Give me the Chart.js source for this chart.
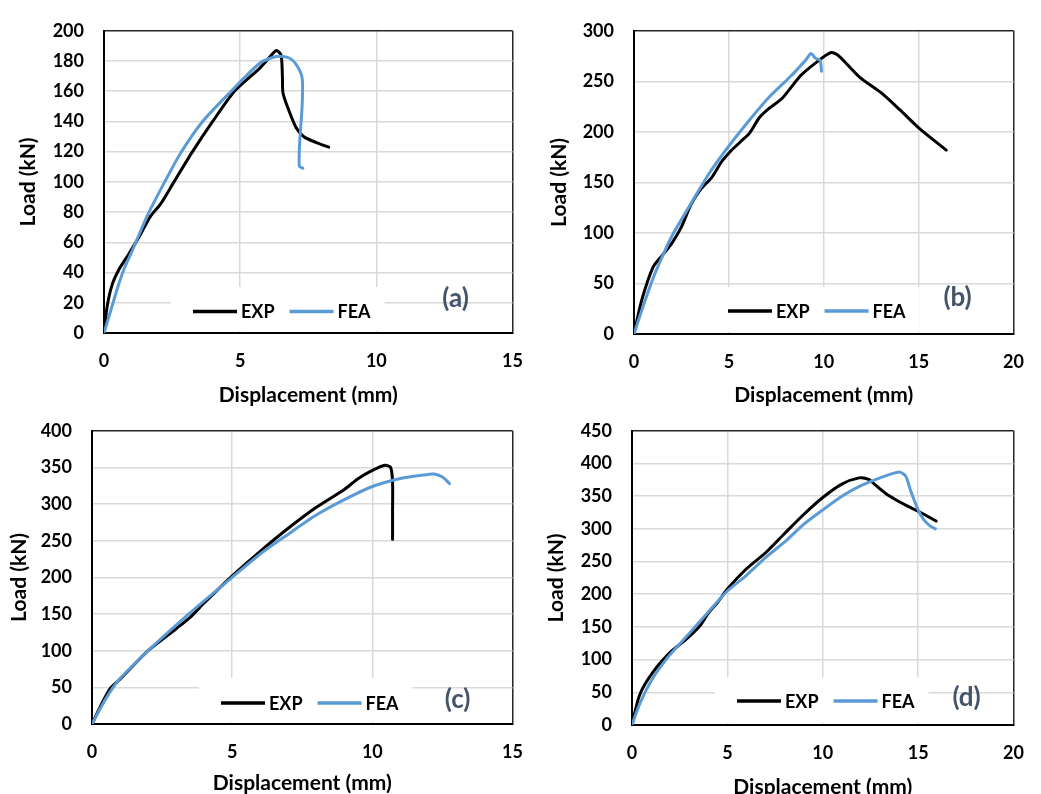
<!DOCTYPE html>
<html>
<head>
<meta charset="utf-8">
<script src="https://cdn.jsdelivr.net/npm/chart.js@4/dist/chart.umd.min.js"></script>
<style>
  html, body { margin: 0; padding: 0; background: #fff; }
  body { width: 1041px; height: 794px; overflow: hidden; position: relative; }
  canvas { position: absolute; }
</style>
</head>
<body>
<canvas id="chartA"></canvas>
<canvas id="chartB"></canvas>
<canvas id="chartC"></canvas>
<canvas id="chartD"></canvas>
<script>
// Load-displacement curves, each point is [displacement (mm), load (kN)]
const expA = [[0,0],[0.12,18],[0.3,32],[0.55,42],[0.9,52],[1.3,64],[1.7,77],[2.1,86],[2.57,100],[3.25,120],[3.99,140],[4.79,160],
  [5.73,175.5],[6.15,184],[6.33,187],[6.5,184],[6.55,170],[6.57,159],[6.75,149],[7.05,136],[7.35,129.7],[7.8,126],[8.25,123]];
const feaA = [[0,0],[0.25,15],[0.5,30],[0.75,43],[1.05,55],[1.6,78],[2.2,99],[2.81,119],[3.62,140],[4.67,160],
  [5.73,178.7],[6.33,183],[6.8,182],[7.1,176.5],[7.28,168],[7.27,149],[7.19,128],[7.17,110.5],[7.3,109]];

const expB = [[0,0],[0.4,33],[1.0,66],[1.5,78],[2.0,90],[2.5,106],[3.0,128],[3.5,143],[4.1,155],[4.6,170],[5.1,181],
  [5.6,190],[6.1,199],[6.6,214],[7.1,223],[7.8,233],[8.8,256],[9.9,273],[10.4,278.5],[10.8,275],[11.9,254],[13,239],
  [14,222],[15,204],[16.45,182]];
const feaB = [[0,0],[0.4,23],[1.0,55],[1.5,77],[2.0,97],[3.0,129],[4.0,160],[5.0,186],[6.1,212],[7.1,234],[8.2,254],
  [9.0,270],[9.33,277.5],[9.55,273],[9.8,271],[9.88,260]];

const expC = [[0,0],[0.3,24],[0.64,48],[1.0,61],[2,100],[3,130],[3.5,145.6],[4,165],[5,202],[6,235.6],[7,267],[8,295.6],
  [9,320],[9.5,335],[10,346],[10.45,353],[10.65,350],[10.72,330],[10.72,290],[10.72,252]];
const feaC = [[0,0],[0.5,35],[1,62],[2,100],[3,135],[4,168],[5,200],[6,232],[7,259],[8,285],[9,306],[10,324],[11,335],
  [12,340.5],[12.2,341],[12.5,337],[12.75,328]];

const expD = [[0,0],[0.4,46],[1.08,80],[2,111],[2.8,130],[3.6,153],[4,171],[4.5,188],[5,208],[6,239],[7,263.5],[8,293],
  [9,322],[10,348],[11,368.5],[11.9,378],[12.4,375.8],[12.8,366],[13.3,354],[13.8,345],[14.5,334],[15,327],[15.94,312]];
const feaD = [[0,0],[0.4,32],[1.08,71],[1.92,105],[3,140],[4,173],[5,205],[6,229],[7,256],[8,280],[9,307],[10,329],
  [11,350],[12,366],[13,378],[14,387],[14.35,380.6],[14.6,358.7],[15,329],[15.27,314.8],[15.6,305],[15.9,300]];

const seriesNames = ['EXP', 'FEA'];
const seriesColors = ['#000000', '#5B9BD5'];
const panelTags = ['(a)', '(b)', '(c)', '(d)'];
const xMaxes = [15, 20, 15, 20];
const yMaxes = [200, 300, 400, 450];
const ySteps = [20, 50, 50, 50];

const FONT = 'Lato, "Open Sans", sans-serif';

// canvas box and plot box in page pixels: [left, top, right, bottom]
const panels = [
  { id: 'chartA', exp: expA, fea: feaA, box: [16, 0, 540, 408], plot: [104, 20, 521, 333],
    leg: { x: 89, y: 21.5, top: 46 }, tag: { x: 57, y: 34 } },
  { id: 'chartB', exp: expB, fea: feaB, box: [547, 0, 1041, 408], plot: [634, 22, 1024, 334],
    leg: { x: 94, y: 23, top: 47 }, tag: { x: 56, y: 36 } },
  { id: 'chartC', exp: expC, fea: feaC, box: [7, 400, 540, 796], plot: [92, 417, 521, 724],
    leg: { x: 129, y: 21, top: 46 }, tag: { x: 55, y: 24 } },
  { id: 'chartD', exp: expD, fea: feaD, box: [544, 400, 1041, 800], plot: [632, 417, 1027, 725],
    leg: { x: 105, y: 24, top: 48 }, tag: { x: 47, y: 27.5 } }
];

// legend and panel letter drawn inside the plot area
const insideLegend = {
  id: 'insideLegend',
  beforeDatasetsDraw(chart, args, opts) {
    const ctx = chart.ctx, a = chart.chartArea;
    const sample = 44;
    ctx.save();
    ctx.font = 'bold 18px ' + FONT;
    const widths = seriesNames.map(n => ctx.measureText(n).width);
    let total = 0;
    widths.forEach((w, i) => { total += sample + 4 + w + (i < widths.length - 1 ? 15 : 0); });
    let x = a.left + opts.x;
    const cy = a.bottom - opts.y;
    ctx.fillStyle = '#ffffff';
    ctx.fillRect(x - 22, a.bottom - opts.top, total + 36, opts.top - 2);
    chart.data.datasets.forEach((ds, i) => {
      ctx.strokeStyle = ds.borderColor;
      ctx.lineWidth = 3.5;
      ctx.beginPath();
      ctx.moveTo(x, cy);
      ctx.lineTo(x + sample, cy);
      ctx.stroke();
      x += sample + 4;
      ctx.fillStyle = '#000';
      ctx.textBaseline = 'middle';
      ctx.textAlign = 'left';
      ctx.fillText(ds.label, x, cy + 1);
      x += widths[i] + 15;
    });
    ctx.font = 'bold 26px ' + FONT;
    ctx.fillStyle = '#44546A';
    ctx.textAlign = 'center';
    ctx.fillText(opts.tag, a.right - opts.tagX, a.bottom - opts.tagY);
    ctx.restore();
  }
};

panels.forEach((p, k) => {
  const canvas = document.getElementById(p.id);
  const [bl, bt, br, bb] = p.box;
  const [pl, pt, pr, pb] = p.plot;
  canvas.width = br - bl;
  canvas.height = bb - bt;
  canvas.style.left = bl + 'px';
  canvas.style.top = bt + 'px';

  const xMax = xMaxes[k], yMax = yMaxes[k];
  const tickFont = { family: FONT, size: 18, weight: 'bold' };
  const titleFont = { family: FONT, size: 21, weight: 'bold' };

  new Chart(canvas, {
    type: 'line',
    data: {
      datasets: [p.exp, p.fea].map((pts, i) => ({
        label: seriesNames[i],
        data: pts.map(q => ({ x: q[0], y: q[1] })),
        borderColor: seriesColors[i],
        borderWidth: 3,
        pointRadius: 0,
        tension: 0.25,
        borderJoinStyle: 'round',
        borderCapStyle: 'round',
        order: i === 0 ? 1 : 0
      }))
    },
    options: {
      responsive: false,
      animation: false,
      events: [],
      layout: { padding: { left: 0, top: pt - bt, right: br - pr, bottom: 0 } },
      plugins: {
        legend: { display: false },
        tooltip: { enabled: false },
        insideLegend: { x: p.leg.x, y: p.leg.y, top: p.leg.top, tag: panelTags[k], tagX: p.tag.x, tagY: p.tag.y }
      },
      scales: {
        x: {
          type: 'linear', min: 0, max: xMax,
          ticks: { stepSize: 5, padding: 17, color: '#000', font: tickFont },
          grid: {
            drawTicks: false, lineWidth: 1.5,
            color: c => c.tick && c.tick.value === xMax ? '#262626' : '#d9d9d9'
          },
          border: { color: '#000', width: 2 },
          title: { display: true, text: 'Displacement (mm)', color: '#000', font: titleFont, padding: 0 },
          afterFit: s => { s.height = bb - pb; }
        },
        y: {
          type: 'linear', min: 0, max: yMax,
          ticks: { stepSize: ySteps[k], padding: 20, color: '#000', font: tickFont },
          grid: {
            drawTicks: false, lineWidth: 1.5,
            color: c => c.tick && c.tick.value === yMax ? '#262626' : '#d9d9d9'
          },
          border: { color: '#000', width: 2 },
          title: { display: true, text: 'Load (kN)', color: '#000', font: titleFont, padding: 0 },
          afterFit: s => { s.width = pl - bl; }
        }
      }
    },
    plugins: [insideLegend]
  });
});
</script>
</body>
</html>
